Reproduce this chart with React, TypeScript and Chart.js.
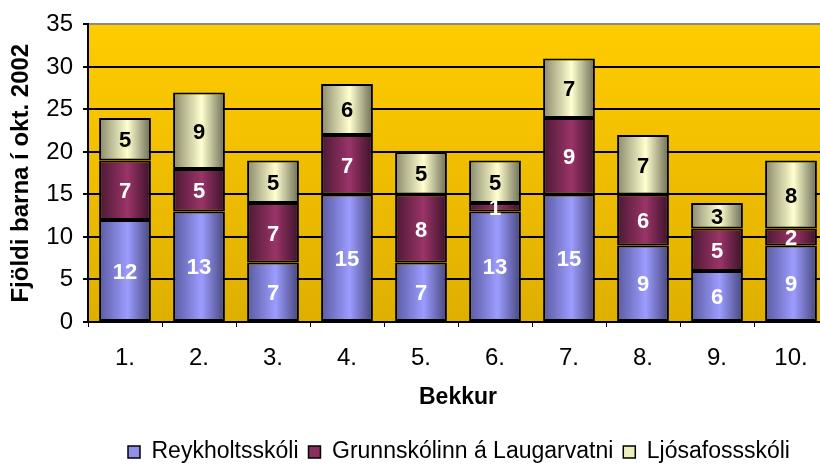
import React, { useEffect, useRef } from 'react';
import { Chart, registerables } from 'chart.js';

Chart.register(...registerables);

const CATEGORIES = ['1.', '2.', '3.', '4.', '5.', '6.', '7.', '8.', '9.', '10.'];
const SERIES_NAMES = ['Reykholtsskóli', 'Grunnskólinn á Laugarvatni', 'Ljósafossskóli'];
const REYKHOLT = [12, 13, 7, 15, 7, 13, 15, 9, 6, 9];
const GRUNN = [7, 5, 7, 7, 8, 1, 9, 6, 5, 2];
const LJOSA = [5, 9, 5, 6, 5, 5, 7, 7, 3, 8];
const Y_MIN = 0;
const Y_MAX = 35;
const Y_STEP = 5;
const Y_TITLE = 'Fjöldi barna í okt. 2002';
const X_TITLE = 'Bekkur';

const FONT = '"Liberation Sans", Arial, Helvetica, sans-serif';
const BAR_PCT = 0.7;
const LEGEND_START_X = 128;
const LEGEND_CENTER_Y = 452;

// [left edge, highlight, right edge, legend swatch]
const BLUE = ['#5a5aa0', '#9c9cff', '#46467c', '#9090ea'];
const MAROON = ['#4c1934', '#9a3468', '#3c1229', '#8a305e'];
const CREAM = ['#8a8a6c', '#ffffcf', '#6c6c54', '#eeeec0'];
const LABEL_COLORS = ['#ffffff', '#ffffff', '#000000'];

function gradientFill(c4: string[]) {
  return (c: any) => {
    const chart = c.chart;
    const xs = chart.scales && chart.scales.x;
    if (c.type !== 'data' || !xs || !isFinite(xs.width) || xs.width <= 0) return c4[3];
    const cx = xs.getPixelForValue(c.dataIndex);
    const half = ((xs.width / CATEGORIES.length) * BAR_PCT) / 2;
    if (!isFinite(cx) || !isFinite(half)) return c4[3];
    const g = chart.ctx.createLinearGradient(cx - half, 0, cx + half, 0);
    g.addColorStop(0, c4[0]);
    g.addColorStop(0.55, c4[1]);
    g.addColorStop(1, c4[2]);
    return g;
  };
}

const plotBg = {
  id: 'plotBg',
  beforeDraw(chart: any) {
    const { ctx, chartArea: a } = chart;
    if (!a) return;
    const g = ctx.createLinearGradient(0, a.top, 0, a.bottom);
    g.addColorStop(0, '#FFCC00');
    g.addColorStop(1, '#DFAF00');
    ctx.save();
    ctx.fillStyle = g;
    ctx.fillRect(a.left, a.top, a.right - a.left, a.bottom - a.top);
    ctx.restore();
  },
};

const segLabels = {
  id: 'segLabels',
  afterDatasetsDraw(chart: any) {
    const ctx = chart.ctx;
    ctx.save();
    ctx.font = `bold 22px ${FONT}`;
    ctx.textAlign = 'center';
    ctx.textBaseline = 'middle';
    chart.data.datasets.forEach((ds: any, di: number) => {
      const meta = chart.getDatasetMeta(di);
      ctx.fillStyle = LABEL_COLORS[di];
      meta.data.forEach((bar: any, i: number) => {
        const { x, y, base } = bar.getProps(['x', 'y', 'base'], true);
        ctx.fillText(String(ds.data[i]), x, (y + base) / 2 + 2);
      });
    });
    ctx.restore();
  },
};

const shiftLegend = {
  id: 'shiftLegend',
  afterLayout(chart: any) {
    const lg = chart.legend;
    if (lg && lg.lineWidths) {
      const pad = lg.options.labels.padding;
      const start = (lg.left + pad + lg.right - lg.lineWidths[0]) / 2;
      const dx = LEGEND_START_X - start;
      lg.left += dx;
      lg.right += dx;
      const fs = lg.options.labels.font.size;
      const dy = LEGEND_CENTER_Y - (lg.top + pad + fs / 2);
      lg.top += dy;
      lg.bottom += dy;
    }
  },
};

export default function App() {
  const ref = useRef<HTMLCanvasElement>(null);

  useEffect(() => {
    const series = [REYKHOLT, GRUNN, LJOSA];
    const palettes = [BLUE, MAROON, CREAM];
    const chart = new Chart(ref.current as HTMLCanvasElement, {
      type: 'bar',
      data: {
        labels: CATEGORIES,
        datasets: series.map((d, i) => ({
          label: SERIES_NAMES[i],
          data: d,
          backgroundColor: gradientFill(palettes[i]) as any,
          borderColor: '#000000',
          borderWidth: 2,
          borderSkipped: false,
          barPercentage: BAR_PCT,
          categoryPercentage: 1,
        })),
      },
      options: {
        responsive: false,
        animation: false,
        devicePixelRatio: 1,
        layout: { padding: { top: 20, right: 12, bottom: 16.6, left: 0 } },
        scales: {
          x: {
            stacked: true,
            afterFit: (s: any) => {
              s.height = 89.4;
            },
            grid: {
              drawOnChartArea: false,
              drawTicks: true,
              tickLength: 5,
              color: '#000000',
              lineWidth: 1,
            },
            border: { color: '#000000', width: 2 },
            ticks: {
              color: '#000000',
              padding: 16.6,
              font: { family: FONT, size: 24 },
            },
            title: {
              display: true,
              text: X_TITLE,
              color: '#000000',
              padding: { top: 0, bottom: 0 },
              font: { family: FONT, size: 23, weight: 'bold' },
            },
          },
          y: {
            stacked: true,
            min: Y_MIN,
            max: Y_MAX,
            afterFit: (s: any) => {
              s.width = 88;
            },
            grid: {
              color: (c: any) => (c.tick && c.tick.value === Y_MAX ? '#8a8a8a' : '#000000'),
              tickColor: '#000000',
              lineWidth: 2,
              tickLength: 5,
            },
            border: { color: '#000000', width: 2 },
            ticks: {
              stepSize: Y_STEP,
              color: '#000000',
              padding: 10,
              font: { family: FONT, size: 24 },
            },
            title: {
              display: true,
              text: Y_TITLE,
              color: '#000000',
              padding: { top: 7, bottom: 0 },
              font: { family: FONT, size: 24, weight: 'bold' },
            },
          },
        },
        plugins: {
          legend: {
            position: 'bottom',
            labels: {
              color: '#000000',
              boxWidth: 12,
              boxHeight: 12,
              padding: 10,
              font: { family: FONT, size: 23 },
              generateLabels: (ch: any) =>
                Chart.defaults.plugins.legend.labels.generateLabels(ch).map((item: any, i: number) => ({
                  ...item,
                  fillStyle: palettes[i][3],
                  lineWidth: 1.5,
                })),
            },
          },
          tooltip: { enabled: false },
        },
      },
      plugins: [plotBg, segLabels, shiftLegend],
    });
    return () => chart.destroy();
  }, []);

  return (
    <div
      style={{
        position: 'absolute',
        left: 0,
        top: 0,
        width: 820,
        height: 471,
        overflow: 'hidden',
        background: '#ffffff',
      }}
    >
      <canvas ref={ref} width={840} height={471} style={{ display: 'block', width: 840, height: 471 }} />
    </div>
  );
}
